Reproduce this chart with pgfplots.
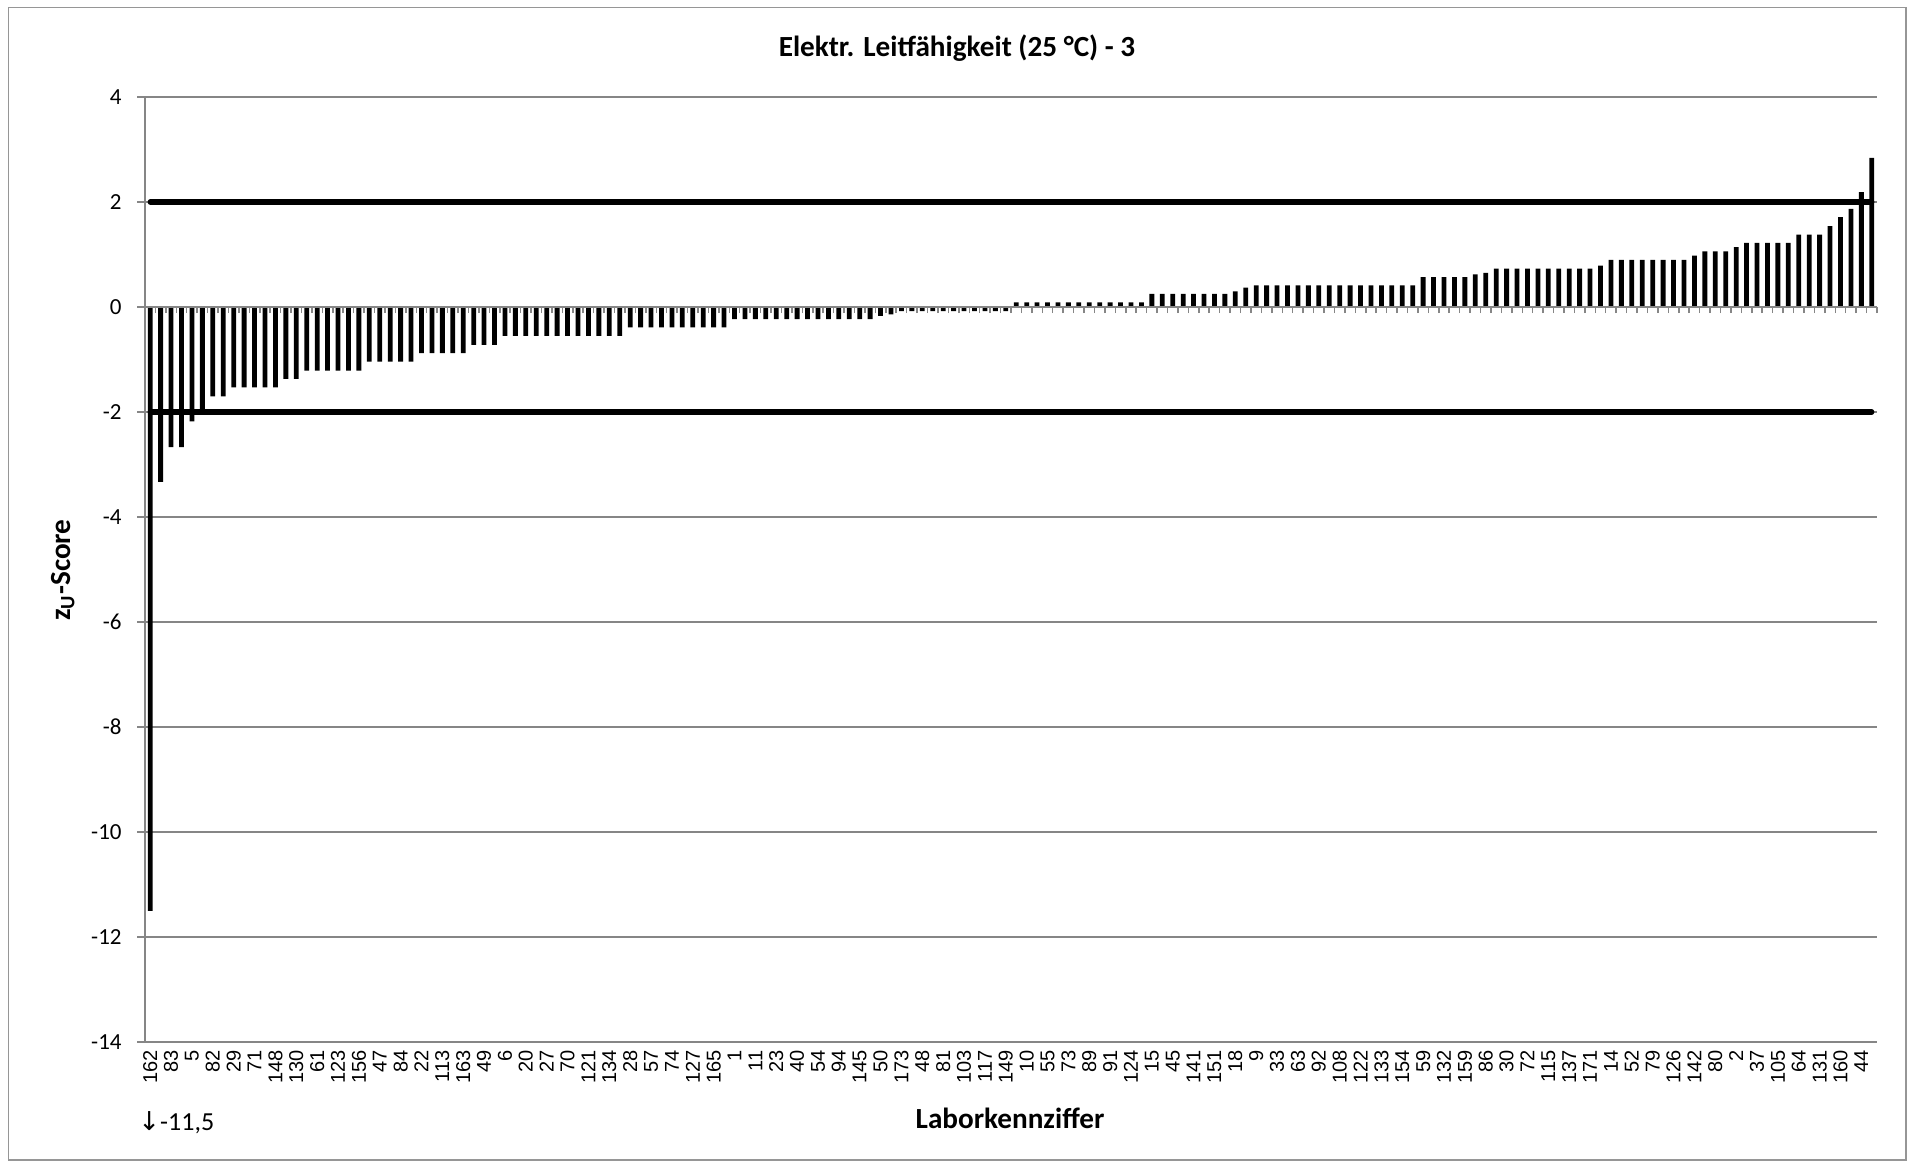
\documentclass[border=0pt]{standalone}
\usepackage{fontspec}
\setmainfont{Carlito}
\newfontfamily\arialfont{Liberation Sans}
\newfontfamily\dejavu{DejaVu Sans}
\usepackage{pgfplots}
\pgfplotsset{compat=1.18}
\definecolor{gridgray}{RGB}{134,134,134}
\definecolor{framegray}{RGB}{150,150,150}

\begin{document}
\begin{tikzpicture}
\useasboundingbox (0,0) rectangle (954pt,-582pt);
\draw[framegray, line width=0.7pt] (4.2pt,-3.7pt) rectangle (953pt,-580pt);
\begin{axis}[
  at={(72.5pt,-521pt)}, anchor=south west,
  width=866pt, height=472.5pt, scale only axis,
  xmin=0.5, xmax=166.5, ymin=-14, ymax=4,
  axis y line*=left, axis x line*=bottom,
  x axis line style={draw=none},
  y axis line style={gridgray, line width=0.9pt},
  ytick={-14,-12,...,4},
  yticklabels={-14,-12,-10,-8,-6,-4,-2,0,2,4},
  ymajorgrids, grid style={gridgray, line width=0.9pt},
  tick align=outside,
  ytick style={gridgray, line width=0.9pt},
  major tick length=4pt,
  xtick={1,3,...,165},
  xticklabels={162,83,5,82,29,71,148,130,61,123,
               156,47,84,22,113,163,49,6,20,27,
               70,121,134,28,57,74,127,165,1,11,
               23,40,54,94,145,50,173,48,81,103,
               117,149,10,55,73,89,91,124,15,45,
               141,151,18,9,33,63,92,108,122,133,
               154,59,132,159,86,30,72,115,137,171,
               14,52,79,126,142,80,2,37,105,64,
               131,160,44},
  xtick style={draw=none},
  xticklabel style={rotate=90, anchor=east, font=\arialfont\fontsize{10}{11}\selectfont, inner sep=0pt},
  yticklabel style={font=\fontsize{11.5}{13}\selectfont, anchor=east, inner sep=0pt, xshift=-7.5pt},
  clip=false,
]
\addplot[ybar, bar width=0.46, fill=black, draw=none] coordinates {
(1,-11.5) (2,-3.33) (3,-2.67) (4,-2.67) (5,-2.18) (6,-2.02) (7,-1.70) (8,-1.70)
(9,-1.53) (10,-1.53) (11,-1.53) (12,-1.53) (13,-1.53)
(14,-1.37) (15,-1.37)
(16,-1.21) (17,-1.21) (18,-1.21) (19,-1.21) (20,-1.21) (21,-1.21)
(22,-1.04) (23,-1.04) (24,-1.04) (25,-1.04) (26,-1.04)
(27,-0.88) (28,-0.88) (29,-0.88) (30,-0.88) (31,-0.88)
(32,-0.72) (33,-0.72) (34,-0.72)
(35,-0.55) (36,-0.55) (37,-0.55) (38,-0.55) (39,-0.55) (40,-0.55)
(41,-0.55) (42,-0.55) (43,-0.55) (44,-0.55) (45,-0.55) (46,-0.55)
(47,-0.39) (48,-0.39) (49,-0.39) (50,-0.39) (51,-0.39) (52,-0.39)
(53,-0.39) (54,-0.39) (55,-0.39) (56,-0.39)
(57,-0.23) (58,-0.23) (59,-0.23) (60,-0.23) (61,-0.23) (62,-0.23) (63,-0.23)
(64,-0.23) (65,-0.23) (66,-0.23) (67,-0.23) (68,-0.23) (69,-0.23) (70,-0.23)
(71,-0.17) (72,-0.14)
(73,-0.08) (74,-0.08) (75,-0.08) (76,-0.08) (77,-0.08) (78,-0.08)
(79,-0.08) (80,-0.08) (81,-0.08) (82,-0.08) (83,-0.08)
(84,0.09) (85,0.09) (86,0.09) (87,0.09) (88,0.09) (89,0.09) (90,0.09)
(91,0.09) (92,0.09) (93,0.09) (94,0.09) (95,0.09) (96,0.09)
(97,0.25) (98,0.25) (99,0.25) (100,0.25) (101,0.25) (102,0.25) (103,0.25) (104,0.25)
(105,0.30) (106,0.37)
(107,0.41) (108,0.41) (109,0.41) (110,0.41) (111,0.41) (112,0.41) (113,0.41) (114,0.41)
(115,0.41) (116,0.41) (117,0.41) (118,0.41) (119,0.41) (120,0.41) (121,0.41) (122,0.41)
(123,0.57) (124,0.57) (125,0.57) (126,0.57) (127,0.57)
(128,0.62) (129,0.65)
(130,0.73) (131,0.73) (132,0.73) (133,0.73) (134,0.73) (135,0.73) (136,0.73)
(137,0.73) (138,0.73) (139,0.73)
(140,0.79)
(141,0.90) (142,0.90) (143,0.90) (144,0.90) (145,0.90) (146,0.90) (147,0.90) (148,0.90)
(149,0.98)
(150,1.06) (151,1.06) (152,1.06)
(153,1.14)
(154,1.22) (155,1.22) (156,1.22) (157,1.22) (158,1.22)
(159,1.38) (160,1.38) (161,1.38)
(162,1.54) (163,1.71) (164,1.87) (165,2.19) (166,2.84)
};
\addplot[black, line width=2.6pt, line cap=round] coordinates {(1,2) (166,2)};
\addplot[black, line width=2.6pt, line cap=round] coordinates {(1,-2) (166,-2)};
\end{axis}
\begin{axis}[
  at={(72.5pt,-521pt)}, anchor=south west,
  width=866pt, height=472.5pt, scale only axis,
  xmin=0.5, xmax=166.5, ymin=-14, ymax=4,
  axis x line*=middle, axis y line=none,
  xtick={0.5,1.5,...,166.5}, xticklabels={},
  xtick style={gridgray, line width=0.75pt},
  tick align=outside, major tick length=3pt,
  x axis line style={gridgray, line width=0.9pt},
  ytick=\empty,
]
\end{axis}
\node[anchor=base, font=\bfseries\fontsize{14.6}{16}\selectfont] at (478.5pt,-28.3pt) {Elektr. Leitfähigkeit (25 °C) - 3};
\node[anchor=base, font=\bfseries\fontsize{14.6}{16}\selectfont] at (505pt,-564pt) {Laborkennziffer};
\node[rotate=90, anchor=base, font=\bfseries\fontsize{14.6}{16}\selectfont] at (35pt,-285pt) {z\textsubscript{U}-Score};
\node[anchor=base west, inner sep=0pt, font=\fontsize{13}{15}\selectfont] at (69pt,-565pt) {{\dejavu ↓}-11,5};
\end{tikzpicture}
\end{document}
